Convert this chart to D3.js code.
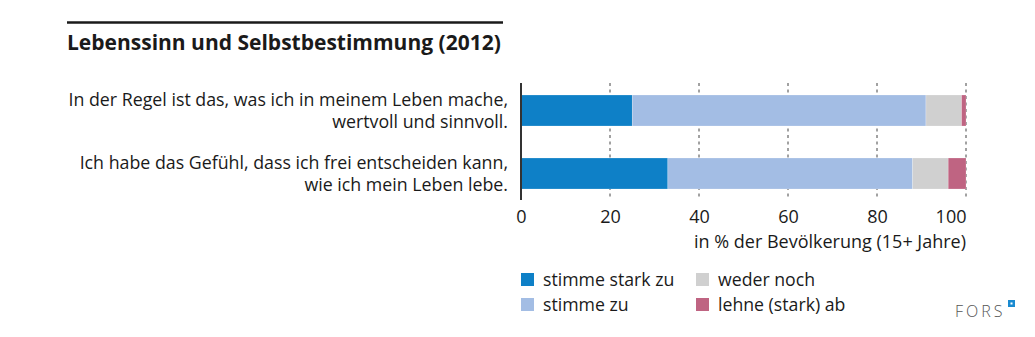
<!DOCTYPE html>
<html>
<head>
<meta charset="utf-8">
<script src="https://cdn.jsdelivr.net/npm/d3@7"></script>
<style>
  body { margin: 0; background: #fff; }
  svg { display: block; font-family: "Open Sans", "Noto Sans", sans-serif; }
</style>
</head>
<body>
<svg id="chart" width="1035" height="337"></svg>
<script>
// statements, one entry per bar (two text lines each)
const statements = [
  ["In der Regel ist das, was ich in meinem Leben mache,", "wertvoll und sinnvoll."],
  ["Ich habe das Gefühl, dass ich frei entscheiden kann,", "wie ich mein Leben lebe."]
]
const answers = ["stimme stark zu", "stimme zu", "weder noch", "lehne (stark) ab"]
const colors = ["#0e80c7", "#a3bde4", "#d0d0d0", "#bf6482"]
// percent per answer, in the order of `answers`
const stronglyAgree = [25, 33]
const agree = [66, 55]
const neither = [8, 8]
const disagree = [1, 4]
const ticks = [0, 20, 40, 60, 80, 100]

const svg = d3.select('#chart')
const x = d3.scaleLinear().domain([0, 100]).range([521, 966])

const rows = statements.map((s, i) => ({
  i: i,
  vals: [stronglyAgree[i], agree[i], neither[i], disagree[i]]
}))

// title with rule above
svg.append('line')
  .attr('x1', 67).attr('x2', 503).attr('y1', 22.5).attr('y2', 22.5)
  .attr('stroke', '#1a1a1a').attr('stroke-width', 2.5)
svg.append('text')
  .attr('x', 67).attr('y', 50)
  .attr('font-size', 21).attr('font-weight', 'bold').attr('fill', '#1a1a1a')
  .text('Lebenssinn und Selbstbestimmung (2012)')

// dashed grid lines
svg.append('g').selectAll('line')
  .data(ticks.slice(1))
  .join('line')
  .attr('x1', d => x(d)).attr('x2', d => x(d))
  .attr('y1', 83).attr('y2', 200)
  .attr('stroke', '#444').attr('stroke-width', 1)
  .attr('stroke-dasharray', '3,3.5')

// stacked bars
const barTop = [95, 158]
const barH = 31
const bars = svg.append('g')
rows.forEach(r => {
  let acc = 0
  r.vals.forEach((v, k) => {
    bars.append('rect')
      .attr('x', x(acc)).attr('y', barTop[r.i])
      .attr('width', x(acc + v) - x(acc)).attr('height', barH)
      .attr('fill', colors[k])
      .attr('stroke', '#fff').attr('stroke-opacity', 0.35).attr('stroke-width', 0.6)
    acc += v
  })
})

// axis line at zero
svg.append('line')
  .attr('x1', x(0)).attr('x2', x(0)).attr('y1', 83).attr('y2', 200)
  .attr('stroke', '#333').attr('stroke-width', 2)

// statement labels
const labels = svg.append('g').attr('font-size', 17.8).attr('fill', '#1a1a1a').attr('text-anchor', 'end')
statements.forEach((s, i) => {
  s.forEach((line, j) => {
    labels.append('text')
      .attr('x', 508).attr('y', barTop[i] + 11 + j * 22)
      .text(line)
  })
})

// x axis; the last label is kept inside the plot edge
const axis = svg.append('g')
  .attr('transform', 'translate(0,206)')
  .call(d3.axisBottom(x).tickValues(ticks).tickSize(0).tickPadding(0))
axis.select('.domain').remove()
axis.selectAll('text')
  .attr('font-size', 18).attr('fill', '#1a1a1a')
  .attr('font-family', '"Open Sans", "Noto Sans", sans-serif')
  .attr('dy', '0.95em')
  .attr('text-anchor', d => d === 100 ? 'end' : 'middle')
svg.append('text')
  .attr('x', 966).attr('y', 247.5).attr('text-anchor', 'end')
  .attr('font-size', 18).attr('fill', '#1a1a1a')
  .text('in % der Bevölkerung (15+ Jahre)')

// legend, two columns
const legend = svg.append('g')
answers.forEach((a, k) => {
  const lx = k < 2 ? 521 : 696
  const ly = k % 2 === 0 ? 273 : 298
  legend.append('rect')
    .attr('x', lx).attr('y', ly).attr('width', 13).attr('height', 13)
    .attr('fill', colors[k])
  legend.append('text')
    .attr('x', lx + 22).attr('y', ly + 13)
    .attr('font-size', 17.7).attr('fill', '#1a1a1a')
    .text(a)
})

// FORS mark
svg.append('text')
  .attr('x', 955).attr('y', 317)
  .attr('font-size', 16).attr('font-weight', 300).attr('fill', '#555')
  .attr('letter-spacing', 3)
  .text('FORS')
svg.append('rect')
  .attr('x', 1008).attr('y', 300).attr('width', 7).attr('height', 7)
  .attr('fill', '#1a8ad0')
svg.append('rect')
  .attr('x', 1010.5).attr('y', 302.5).attr('width', 2).attr('height', 2)
  .attr('fill', '#fff')
</script>
</body>
</html>
